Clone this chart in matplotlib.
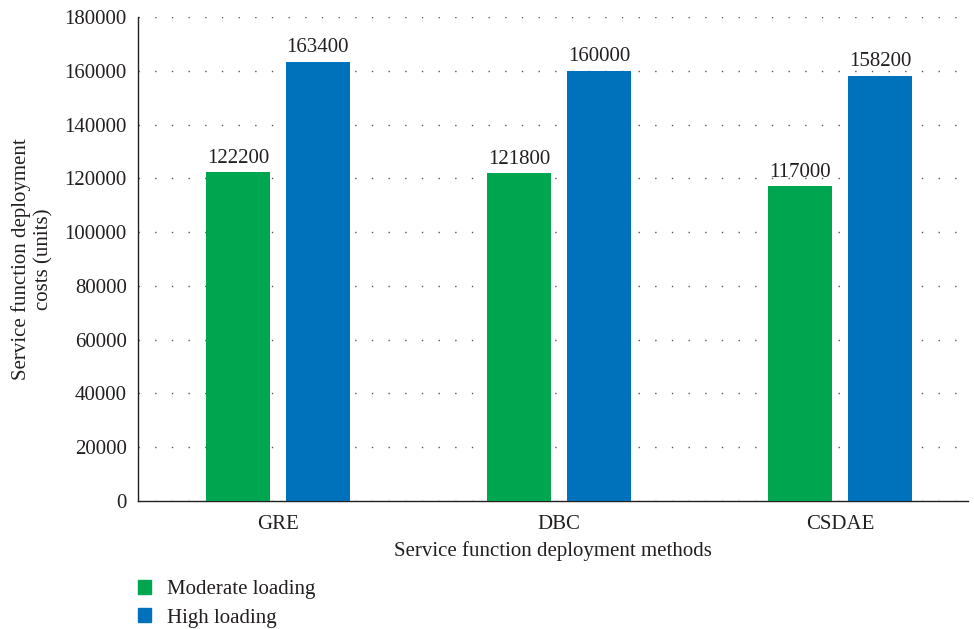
import matplotlib
matplotlib.use("Agg")
import matplotlib.pyplot as plt
import numpy as np
from matplotlib.patches import Patch

plt.rcParams["font.family"] = ["Liberation Serif", "DejaVu Serif"]

methods = ["GRE", "DBC", "CSDAE"]
moderate = [122200, 121800, 117000]
high = [163400, 160000, 158200]
series_names = ["Moderate loading", "High loading"]
colors = ["#00A550", "#0072BC"]

fig = plt.figure(figsize=(9.74, 6.29), dpi=100)
ax = fig.add_axes([138 / 974, 1 - 501 / 629, 830 / 974, 484 / 629])

x = np.arange(len(methods))
width = 0.228
off = 0.142
b1 = ax.bar(x - off, moderate, width, color=colors[0], zorder=3)
b2 = ax.bar(x + off, high, width, color=colors[1], zorder=3)

for bars in (b1, b2):
    for bar in bars:
        ax.text(bar.get_x() + bar.get_width() / 2, bar.get_height() + 1800,
                str(int(bar.get_height())), ha="center", va="bottom",
                fontsize=15, color="#231f20")

ax.set_xlim(-0.498, 2.455)
ax.set_ylim(0, 180000)
ax.set_yticks(np.arange(0, 180001, 20000))
ax.set_xticks(x)
ax.set_xticklabels(methods)
ax.tick_params(length=0, labelsize=15, colors="#231f20", pad=8)
ax.tick_params(axis="x", pad=10)
ax.yaxis.grid(True, linestyle=(0, (1, 11)), color="#555555", linewidth=1.0)
ax.set_axisbelow(True)
for s in ("top", "right"):
    ax.spines[s].set_visible(False)
for s in ("left", "bottom"):
    ax.spines[s].set_color("#231f20")
    ax.spines[s].set_linewidth(1.0)

ax.set_xlabel("Service function deployment methods", fontsize=15,
              color="#231f20", labelpad=5)
ax.set_ylabel("Service function deployment\ncosts (units)", fontsize=15,
              color="#231f20", labelpad=8, linespacing=1.2)

handles = [Patch(color=c, label=n) for c, n in zip(colors, series_names)]
fig.legend(handles=handles, loc="upper left", bbox_to_anchor=(138 / 974, 1 - 580 / 629),
           frameon=False, fontsize=15, handlelength=0.62, handleheight=0.62,
           handletextpad=0.75, labelspacing=0.45, borderpad=0, borderaxespad=0,
           labelcolor="#231f20")

fig.savefig("out.png", dpi=100)
